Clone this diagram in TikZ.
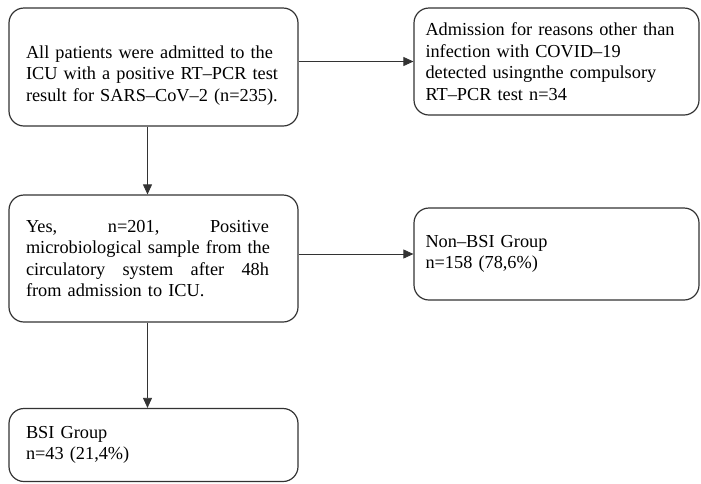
\documentclass[tikz,border=0pt]{standalone}
\usepackage{fontspec}
\setmainfont{Liberation Serif}
\usetikzlibrary{arrows.meta}

\begin{document}
\begin{tikzpicture}[x=1pt,y=-1pt,
    box/.style={draw=black!80,line width=1.2pt,rounded corners=15pt,
      align=left,inner xsep=17pt,inner ysep=0pt,
      font=\fontsize{18.3}{21.5}\selectfont},
    arr/.style={draw=black!80,line width=0.8pt,
      -{Triangle[length=10pt,width=9pt]}}]

    \useasboundingbox (0,0) rectangle (701,483);

    % left column
    \node[box,minimum width=289pt,minimum height=118pt,text width=255pt]
      (admitted) at (153.5,67)
      {\rule{0pt}{29pt}All patients were admitted to the\\ICU with a positive RT--PCR test\\result for SARS--CoV--2 (n=235).};
    \node[box,minimum width=289pt,minimum height=127pt,text width=255pt]
      (yes) at (153.5,258.5)
      {\makebox[243pt][l]{Yes,\hfill n=201,\hfill Positive}\\
       \makebox[243pt][l]{microbiological sample from the}\\
       \makebox[243pt][l]{circulatory\hfill system\hfill after\hfill 48h}\\
       from admission to ICU.};
    \node[box,minimum width=289pt,minimum height=73pt,text width=255pt]
      (bsi) at (153.5,445)
      {BSI Group\\n=43 (21,4\%)};

    % right column
    \node[box,minimum width=285pt,minimum height=107pt,text width=262pt,
      inner xsep=11.5pt] (other) at (556.5,61.5)
      {Admission for reasons other than\\infection with COVID--19\\detected usingnthe compulsory\\RT--PCR test n=34};
    \node[box,minimum width=285pt,minimum height=92pt,text width=262pt,
      inner xsep=11.5pt] (nonbsi) at (556.5,254)
      {Non--BSI Group\\n=158 (78,6\%)};

    \draw[arr] (admitted.east |- other.west) -- (other.west);
    \draw[arr] ([xshift=-6pt]admitted.south) -- ([xshift=-6pt]yes.north);
    \draw[arr] (yes.east |- nonbsi.west) -- (nonbsi.west);
    \draw[arr] ([xshift=-6pt]yes.south) -- ([xshift=-6pt]bsi.north);
\end{tikzpicture}
\end{document}
